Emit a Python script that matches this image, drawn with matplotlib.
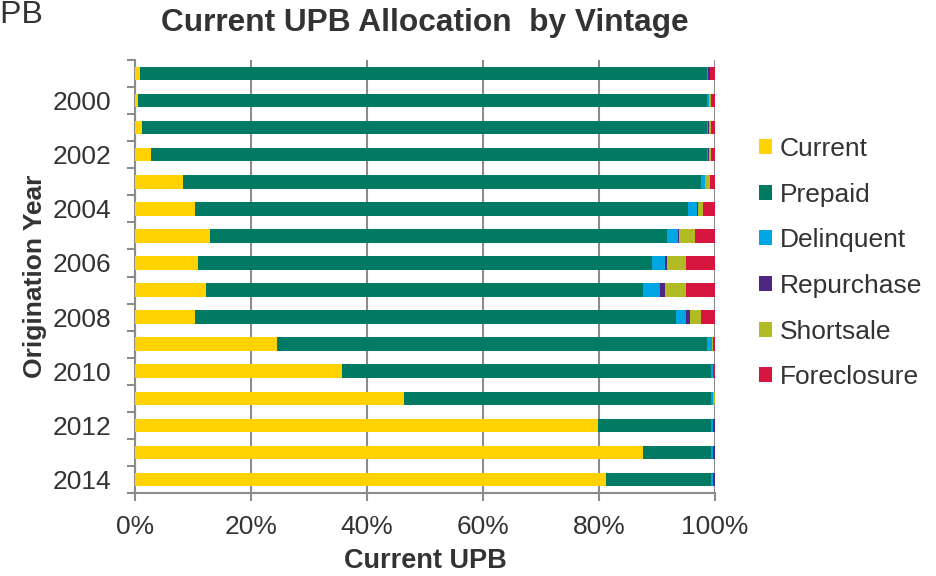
import matplotlib
matplotlib.use("Agg")
import matplotlib.pyplot as plt
from matplotlib.patches import Patch
from matplotlib.ticker import FuncFormatter, FixedLocator

plt.rcParams['font.family'] = ['Liberation Sans', 'DejaVu Sans']

# Data (% of current UPB)
vintages = [1999, 2000, 2001, 2002, 2003, 2004, 2005, 2006,
            2007, 2008, 2009, 2010, 2011, 2012, 2013, 2014]
current = [0.9, 0.5, 1.2, 2.7, 8.2, 10.4, 13.0, 10.8, 12.3, 10.3, 24.4, 35.7, 46.4, 79.9, 87.6, 81.2]
prepaid = [97.8, 98.2, 97.4, 95.9, 89.3, 84.9, 78.7, 78.3, 75.3, 82.9, 74.3, 63.6, 52.9, 19.4, 11.7, 18.1]
delinquent = [0.1, 0.2, 0.2, 0.2, 0.7, 1.6, 1.9, 2.2, 3.0, 1.8, 0.7, 0.4, 0.4, 0.4, 0.4, 0.4]
repurchase = [0.3, 0.1, 0.1, 0.1, 0.1, 0.2, 0.2, 0.4, 0.7, 0.7, 0.0, 0.0, 0.0, 0.3, 0.3, 0.3]
shortsale = [0.0, 0.3, 0.4, 0.4, 0.8, 0.9, 2.7, 3.3, 3.7, 1.9, 0.2, 0.0, 0.3, 0.0, 0.0, 0.0]
foreclosure = [0.9, 0.7, 0.7, 0.7, 0.9, 2.0, 3.5, 5.0, 5.0, 2.4, 0.4, 0.3, 0.0, 0.0, 0.0, 0.0]

series_names = ['Current', 'Prepaid', 'Delinquent', 'Repurchase', 'Shortsale', 'Foreclosure']
series_values = [current, prepaid, delinquent, repurchase, shortsale, foreclosure]
colors = ['#FFD200', '#007A63', '#00A5E3', '#4F2683', '#B1BB24', '#D6163F']

text_color = '#333333'
grid_color = '#8C8C8C'

fig = plt.figure(figsize=(9.36, 5.76), dpi=100)
ax = fig.add_axes([135 / 936, 1 - 493 / 576, 580 / 936, 433 / 576])

# Stacked horizontal bars
ypos = list(range(len(vintages)))
left = [0.0] * len(vintages)
for name, vals, col in zip(series_names, series_values, colors):
    ax.barh(ypos, vals, left=left, height=0.5, color=col, linewidth=0, zorder=3, label=name)
    left = [a + b for a, b in zip(left, vals)]

ax.set_xlim(0, 100)
ax.set_ylim(len(vintages) - 0.5, -0.5)

# x axis
ax.set_xticks([0, 20, 40, 60, 80, 100])
ax.xaxis.set_major_formatter(FuncFormatter(lambda v, p: '%d%%' % v))
ax.tick_params(axis='x', direction='out', length=6, width=1.5, color=grid_color,
               labelsize=19, labelcolor=text_color, pad=10)
ax.grid(axis='x', color=grid_color, linewidth=1.5, zorder=0)

# y axis: labels on even years, tick marks between categories
label_pos = [i for i, y in enumerate(vintages) if y % 2 == 0]
ax.set_yticks(label_pos)
ax.set_yticklabels([str(vintages[i]) for i in label_pos])
ax.yaxis.set_minor_locator(FixedLocator([i - 0.5 for i in range(len(vintages) + 1)]))
ax.tick_params(axis='y', which='major', length=0, labelsize=19, labelcolor=text_color, pad=17)
ax.tick_params(axis='y', which='minor', direction='out', length=6, width=1.5, color=grid_color)

for side in ['top', 'right']:
    ax.spines[side].set_visible(False)
for side in ['left', 'bottom']:
    ax.spines[side].set_color(grid_color)
    ax.spines[side].set_linewidth(1.5)

# Labels and title
ax.set_xlabel('Current UPB', fontsize=19.5, fontweight='bold', color=text_color)
ax.xaxis.set_label_coords(0.5, -0.126)
ax.set_ylabel('Origination Year', fontsize=19, fontweight='bold', color=text_color)
ax.yaxis.set_label_coords(-0.152, 0.5)
fig.text(425 / 936, 1 - 23 / 576, 'Current UPB Allocation  by Vintage', ha='center', va='center',
         fontsize=22.8, fontweight='bold', color=text_color)

# partially cut-off title of neighbouring chart
fig.text(43 / 936, 1 - 23 / 576, 'UPB', ha='right', va='baseline', fontsize=23, color=text_color)

# Legend
handles = [Patch(facecolor=c, edgecolor='none') for c in colors]
fig.legend(handles, series_names, loc='upper left', bbox_to_anchor=(759 / 936, 1 - 137 / 576),
           frameon=False, fontsize=19, labelcolor=text_color, handlelength=0.5, handleheight=0.5,
           handletextpad=0.3, labelspacing=0.82, borderpad=0, borderaxespad=0)

fig.savefig('out.png', dpi=100)
